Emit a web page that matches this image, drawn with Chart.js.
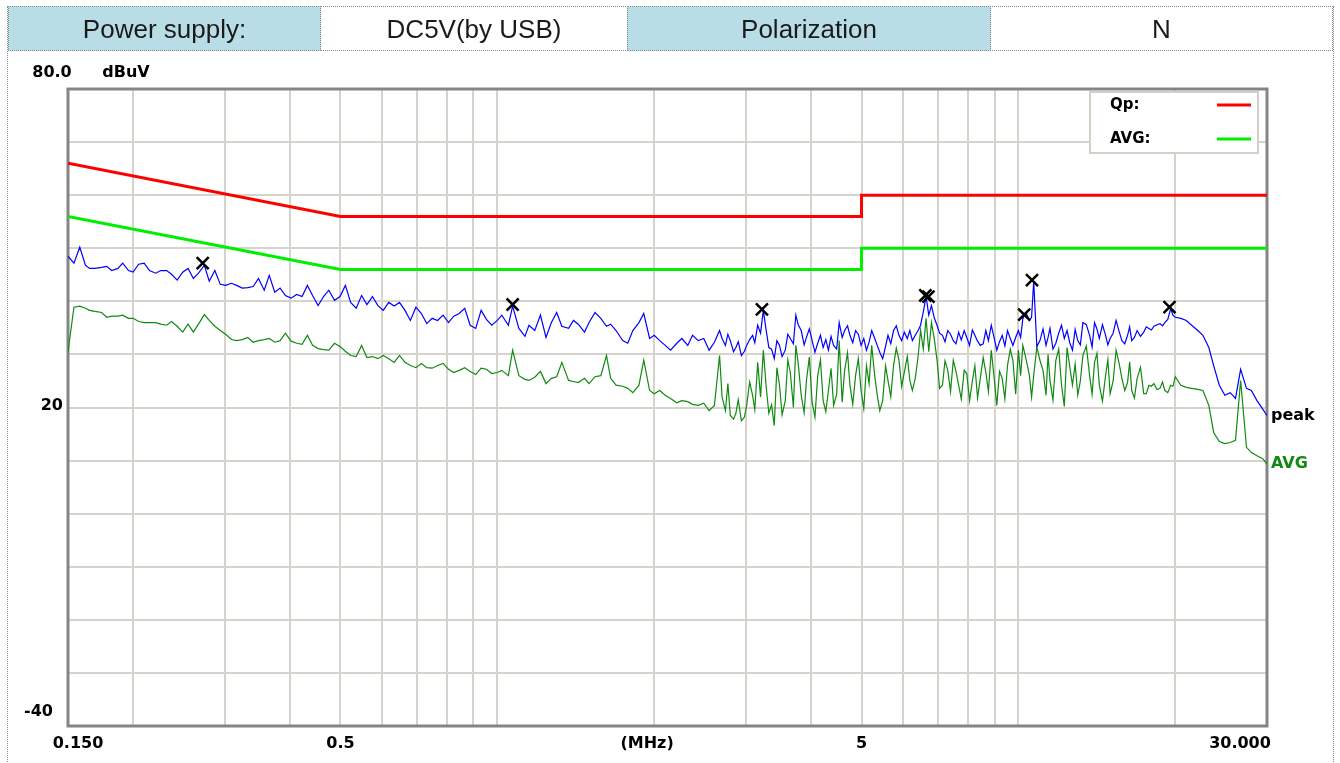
<!DOCTYPE html>
<html>
<head>
<meta charset="utf-8">
<script src="https://cdn.jsdelivr.net/npm/chart.js@4.4.0/dist/chart.umd.min.js"></script>
<style>
body { margin:0; background:#fff; }
#wrap { position:relative; width:1340px; height:763px; overflow:hidden; }
#frame { position:absolute; left:7px; top:6px; width:1325px; height:800px; border-left:1px dotted #8a8a8a; border-right:1px dotted #8a8a8a; }
.cell { position:absolute; top:6px; height:45px; border:1px dotted #8a8a8a; box-sizing:border-box;
        font:26px "Liberation Sans", Arial, sans-serif; color:#1a1a1a; text-align:center; line-height:45px; }
.blue { background:#b8dde7; }
canvas { position:absolute; left:0; top:0; }
</style>
</head>
<body>
<div id="wrap">
  <canvas id="emi" width="1340" height="763"></canvas>
  <div id="frame"></div>
  <div class="cell blue" style="left:8px;width:313px;">Power supply:</div>
  <div class="cell" style="left:320px;width:308px;">DC5V(by USB)</div>
  <div class="cell blue" style="left:627px;width:364px;">Polarization</div>
  <div class="cell" style="left:990px;width:343px;">N</div>
</div>
<script>
// sweep frequencies (MHz)
var freqs = [
  0.150,0.154,0.158,0.162,0.165,0.169,0.174,0.178,0.182,0.187,
  0.191,0.196,0.200,0.205,0.210,0.215,0.221,0.226,0.232,0.237,
  0.243,0.249,0.255,0.261,0.267,0.274,0.280,0.287,0.294,0.301,
  0.309,0.316,0.324,0.332,0.340,0.348,0.357,0.365,0.374,0.383,
  0.392,0.402,0.412,0.422,0.432,0.442,0.453,0.464,0.475,0.487,
  0.499,0.511,0.523,0.536,0.549,0.562,0.576,0.590,0.604,0.619,
  0.634,0.649,0.665,0.681,0.698,0.715,0.732,0.750,0.768,0.787,
  0.806,0.825,0.845,0.866,0.887,0.909,0.931,0.953,0.976,1.00,
  1.02,1.05,1.07,1.10,1.13,1.15,1.18,1.21,1.24,1.27,
  1.30,1.33,1.37,1.40,1.43,1.47,1.50,1.54,1.58,1.62,
  1.65,1.69,1.74,1.78,1.82,1.87,1.91,1.96,2.00,2.05,
  2.10,2.15,2.21,2.26,2.32,2.37,2.43,2.49,2.55,2.61,
  2.67,2.74,2.80,2.87,2.94,3.01,3.09,3.16,3.24,3.32,
  3.40,3.48,3.57,3.65,3.74,3.83,3.92,4.02,4.12,4.22,
  4.32,4.42,4.53,4.64,4.75,4.87,4.99,5.11,5.23,5.36,
  5.49,5.62,5.76,5.90,6.04,6.19,6.34,6.49,6.65,6.81,
  6.98,7.15,7.32,7.50,7.68,7.87,8.06,8.25,8.45,8.66,
  8.87,9.09,9.31,9.53,9.76,10.0,10.2,10.5,10.7,11.0,
  11.3,11.5,11.8,12.1,12.4,12.7,13.0,13.3,13.7,14.0,
  14.3,14.7,15.0,15.4,15.8,16.2,16.5,16.9,17.4,17.8,
  18.2,18.7,19.1,19.6,20.0,20.5,21.0,21.5,22.1,22.6,
  23.2,23.7,24.3,24.9,25.5,26.1,26.7,27.4,28.0,28.7,
  29.4,30.0
];

// peak detector trace (dBuV)
var peakVals = [
  48.5,47.2,50.2,46.8,46.2,46.2,46.4,46.6,45.8,46.2,
  47.2,45.8,45.5,47.0,47.2,45.8,45.3,45.8,45.8,45.1,
  44.0,45.5,46.2,44.3,45.3,46.8,43.8,45.8,43.2,43.0,
  43.4,43.0,42.5,42.6,42.8,44.3,42.1,44.9,41.7,42.5,
  41.1,40.6,41.3,40.9,43.0,41.1,39.2,40.9,42.1,40.2,
  40.9,43.0,39.8,38.7,41.1,39.4,40.9,39.2,38.3,39.8,
  39.1,39.8,38.3,36.4,38.9,37.7,35.8,36.8,36.4,37.4,
  36.0,37.2,37.7,38.7,35.5,34.9,38.3,36.6,35.5,36.4,
  37.4,35.5,39.1,34.9,33.4,35.5,34.5,37.4,33.2,36.0,
  37.9,35.3,34.9,36.4,35.7,34.2,36.0,37.9,36.8,35.3,
  35.7,34.5,32.6,32.1,34.5,36.0,37.7,33.0,33.6,32.6,
  31.7,30.8,32.1,33.0,31.7,33.6,32.6,33.0,30.8,32.3,
  34.5,31.7,32.6,31.3,29.8,31.7,33.6,35.5,38.3,31.3,
  29.2,31.7,30.8,33.0,37.4,34.5,33.2,32.6,32.1,31.3,
  30.8,31.7,36.0,34.5,33.6,34.5,31.7,30.8,34.5,31.7,
  29.2,33.6,34.5,33.6,34.2,34.5,33.6,35.5,40.9,39.2,
  35.5,33.6,34.5,32.6,34.2,34.5,31.7,33.6,31.7,34.5,
  35.5,30.8,33.6,34.5,31.7,34.5,36.8,36.4,43.8,32.6,
  31.7,34.9,32.1,35.5,34.5,30.8,32.6,36.0,33.6,36.0,
  33.0,33.6,33.0,36.4,32.6,33.6,32.6,34.5,34.2,34.9,
  35.3,35.8,36.0,38.6,37.0,36.8,36.4,35.5,34.5,33.6,
  31.3,27.9,24.2,22.3,22.8,21.7,27.2,23.6,23.2,21.3,
  19.8,18.5
];

// average detector trace (dBuV)
var avgVals = [
  30.5,38.9,39.1,38.7,38.3,38.1,37.9,37.0,37.2,37.2,
  37.4,36.8,36.8,36.2,36.0,36.0,36.0,35.7,35.5,36.2,
  35.3,34.2,35.7,34.2,35.7,37.5,36.4,35.3,34.5,33.8,
  32.8,32.6,32.8,33.2,32.3,32.6,32.8,33.0,32.3,32.6,
  34.0,32.5,32.1,31.9,33.6,31.7,31.1,30.9,30.8,32.1,
  31.5,30.6,29.8,29.6,31.7,29.4,29.6,29.2,29.8,29.2,
  28.5,29.8,28.5,27.9,27.5,28.3,27.5,27.4,27.9,28.3,
  27.2,26.6,27.0,27.5,26.8,26.2,27.4,27.2,26.4,26.6,
  27.0,26.0,30.8,26.0,25.3,25.1,25.7,26.8,24.5,25.5,
  25.8,28.5,25.1,24.9,24.7,25.5,24.5,25.8,26.0,29.8,
  25.5,24.2,24.0,23.6,22.8,24.2,28.9,23.2,22.6,23.2,
  22.3,21.7,20.9,21.3,21.1,20.6,20.4,20.8,19.4,20.4,
  29.8,19.4,18.5,18.9,17.5,20.4,22.3,28.5,30.8,18.9,
  16.6,24.2,21.3,26.6,31.7,22.3,25.1,20.9,26.0,21.3,
  23.2,20.4,32.6,27.0,24.2,26.0,23.2,27.9,31.7,22.3,
  21.3,25.1,27.9,28.9,26.6,25.1,25.5,34.5,36.8,36.0,
  28.9,24.2,27.0,28.9,24.2,27.0,21.3,27.9,25.5,26.6,
  30.8,20.4,25.5,27.9,28.9,30.8,31.7,26.0,26.0,28.9,
  22.3,25.1,28.9,24.2,31.3,24.2,22.3,29.8,26.0,28.5,
  24.2,26.0,22.6,30.8,25.5,24.7,23.2,25.5,22.6,24.2,
  24.5,23.6,23.2,24.2,25.8,24.2,23.8,23.6,23.4,23.2,
  20.4,15.3,13.6,13.2,13.4,13.8,25.1,12.5,11.5,10.9,
  10.4,9.4
];

// extra sweep points in the busy 2.7 - 20 MHz band
var fineFreqs = [
  2.70,2.77,2.84,2.90,2.98,  3.05,3.12,3.20,3.28,3.36,
  3.44,3.52,3.61,3.70,3.78,  3.88,3.97,4.07,4.17,4.27,
  4.37,4.48,4.59,4.70,4.81,  4.93,5.05,5.17,5.30,5.42,
  5.56,5.69,5.83,5.97,6.12,  6.26,6.42,6.57,6.73,6.90,
  7.06,7.23,7.41,7.59,7.77,  7.96,8.16,8.35,8.56,8.76,
  8.98,9.20,9.42,9.65,9.88,  10.1,10.35,10.6,10.85,11.15,
  11.4,11.65,11.95,12.25,12.55,  12.85,13.15,13.5,13.85,14.15,
  14.5,14.85,15.2,15.6,16.0,  16.35,16.7,17.15,17.6,18.0,
  18.45,18.9,19.35,19.8
];
var finePeak = [
  33.0,33.8,30.5,32.4,30.6,  32.8,32.2,34.0,34.6,31.0,
  32.6,29.6,33.8,32.0,35.6,  31.8,34.8,30.4,33.6,32.8,
  33.4,31.0,33.2,35.4,32.2,  33.8,33.0,32.3,33.0,30.4,
  31.5,32.0,35.4,32.6,33.0,  32.6,34.5,38.0,37.4,36.8,
  34.0,32.4,33.8,32.0,32.7,  33.2,34.6,32.5,32.0,32.6,
  33.2,32.4,31.6,33.0,33.2,  33.2,37.8,37.0,31.5,34.8,
  33.2,31.0,34.0,33.0,32.2,  34.7,31.8,35.6,31.4,34.8,
  35.6,31.8,34.0,34.4,32.0,  35.2,33.2,33.4,35.2,34.6,
  35.6,35.4,36.6,37.4
];
var fineAvg = [
  22.0,24.5,17.8,21.5,18.2,  24.8,19.6,22.0,24.0,20.5,
  27.5,18.6,29.0,20.0,28.3,  19.0,29.5,18.2,29.0,19.2,
  27.4,22.5,21.0,30.3,20.6,  29.2,19.8,24.5,26.0,19.4,
  27.8,22.0,31.2,24.0,29.6,  23.2,29.6,31.0,30.5,32.8,
  23.6,28.8,23.0,26.8,21.6,  26.4,25.0,21.8,29.4,23.0,
  25.8,26.8,21.6,31.0,22.5,  26.0,29.0,22.0,31.4,27.0,
  30.0,21.4,31.0,20.2,27.6,  28.2,25.0,31.6,22.5,30.2,
  21.2,29.0,25.0,28.4,23.2,  28.6,21.8,27.6,22.6,24.0,
  23.4,24.8,22.8,24.0
];

// limit lines
var limitFreqs = [0.15, 0.5, 0.5, 5, 5, 30];
var qpLimit    = [66, 56, 56, 56, 60, 60];
var avgLimit   = [56, 46, 46, 46, 50, 50];

// marked peaks
var markFreqs = [0.272, 1.07, 3.22, 6.63, 6.72, 10.26, 10.62, 19.5];
var markVals  = [47.2, 39.4, 38.5, 41.1, 40.9, 37.5, 44.0, 38.9];

// grid / tick labels
var xGrid = [0.15,0.2,0.3,0.4,0.5,0.6,0.7,0.8,0.9,1,2,3,4,5,6,7,8,9,10,20,30];
var xTickVals = [0.15, 0.5, 5, 30];
var xTickText = ['0.150', '0.5', '5', '30.000'];
var yTickVals = [80, 20, -40];
var yTickText = ['80.0', '20', '-40'];

function pts(xs, ys) {
  return xs.map(function (x, i) { return { x: x, y: ys[i] }; });
}
function sweep(xs, ys, xs2, ys2) {
  return pts(xs, ys).concat(pts(xs2, ys2)).sort(function (a, b) { return a.x - b.x; });
}

var LBL = 'bold 16px "DejaVu Sans", sans-serif';

var decor = {
  id: 'decor',
  beforeDatasetsDraw: function (chart) {
    var ctx = chart.ctx, a = chart.chartArea;
    ctx.save();
    ctx.strokeStyle = '#858585';
    ctx.lineWidth = 3;
    ctx.strokeRect(a.left, a.top, a.right - a.left, a.bottom - a.top);
    ctx.restore();
  },
  afterDatasetsDraw: function (chart) {
    var ctx = chart.ctx, a = chart.chartArea;
    var xs = chart.scales.x, ys = chart.scales.y;
    ctx.save();
    // legend box
    var bx = a.right - 177, by = a.top + 3;
    ctx.fillStyle = '#fff';
    ctx.fillRect(bx, by, 168, 61);
    ctx.strokeStyle = '#d4d0c8';
    ctx.lineWidth = 2;
    ctx.strokeRect(bx, by, 168, 61);
    ctx.font = 'bold 15px "DejaVu Sans", sans-serif';
    ctx.fillStyle = '#000';
    ctx.textBaseline = 'middle';
    ctx.textAlign = 'left';
    ctx.fillText('Qp:', bx + 20, by + 13);
    ctx.fillText('AVG:', bx + 20, by + 47);
    ctx.lineWidth = 3;
    ctx.strokeStyle = '#ff0000';
    ctx.beginPath(); ctx.moveTo(bx + 127, by + 13); ctx.lineTo(bx + 161, by + 13); ctx.stroke();
    ctx.strokeStyle = '#00ee00';
    ctx.beginPath(); ctx.moveTo(bx + 127, by + 47); ctx.lineTo(bx + 161, by + 47); ctx.stroke();

    // axis labels
    ctx.font = LBL;
    ctx.fillStyle = '#000';
    ctx.textAlign = 'center';
    xTickVals.forEach(function (v, i) {
      var px = xs.getPixelForValue(v);
      if (i === 0) px += 10;
      if (i === xTickVals.length - 1) px -= 27;
      ctx.fillText(xTickText[i], px, a.bottom + 18);
    });
    ctx.fillText('(MHz)', a.left + (a.right - a.left) * 0.483, a.bottom + 18);

    ctx.fillText(yTickText[0], 52, a.top - 16);
    ctx.fillText('dBuV', 126, a.top - 16);
    ctx.textAlign = 'right';
    ctx.fillText(yTickText[1], a.left - 5, ys.getPixelForValue(yTickVals[1]) - 2);
    ctx.fillText(yTickText[2], a.left - 15, ys.getPixelForValue(yTickVals[2]) - 14);

    // trace end labels
    ctx.textAlign = 'left';
    ctx.fillText('peak', a.right + 4, ys.getPixelForValue(peakVals[peakVals.length - 1]));
    ctx.fillStyle = '#108a10';
    ctx.fillText('AVG', a.right + 4, ys.getPixelForValue(avgVals[avgVals.length - 1]));
    ctx.restore();
  }
};

new Chart(document.getElementById('emi').getContext('2d'), {
  type: 'line',
  data: {
    datasets: [
      {
        type: 'scatter',
        data: pts(markFreqs, markVals),
        pointStyle: 'crossRot',
        pointRadius: 8.5,
        borderColor: '#000',
        borderWidth: 2.5,
        showLine: false
      },
      {
        data: sweep(freqs, peakVals, fineFreqs, finePeak),
        borderColor: '#0000ff',
        borderWidth: 1.2,
        pointRadius: 0
      },
      {
        data: sweep(freqs, avgVals, fineFreqs, fineAvg),
        borderColor: '#108a10',
        borderWidth: 1.2,
        pointRadius: 0
      },
      {
        data: pts(limitFreqs, qpLimit),
        borderColor: '#ff0000',
        borderWidth: 3,
        pointRadius: 0
      },
      {
        data: pts(limitFreqs, avgLimit),
        borderColor: '#00ee00',
        borderWidth: 3,
        pointRadius: 0
      }
    ]
  },
  options: {
    responsive: false,
    animation: false,
    layout: { padding: { left: 68, top: 89, right: 73, bottom: 37 } },
    plugins: { legend: { display: false }, tooltip: { enabled: false } },
    scales: {
      x: {
        type: 'logarithmic',
        min: 0.15,
        max: 30,
        afterBuildTicks: function (s) { s.ticks = xGrid.map(function (v) { return { value: v }; }); },
        ticks: { display: false },
        grid: { color: '#d6d3cd', lineWidth: 2, drawTicks: false },
        border: { display: false }
      },
      y: {
        min: -40,
        max: 80,
        ticks: { display: false, stepSize: 10 },
        grid: { color: '#d6d3cd', lineWidth: 2, drawTicks: false },
        border: { display: false }
      }
    }
  },
  plugins: [decor]
});
</script>
</body>
</html>
